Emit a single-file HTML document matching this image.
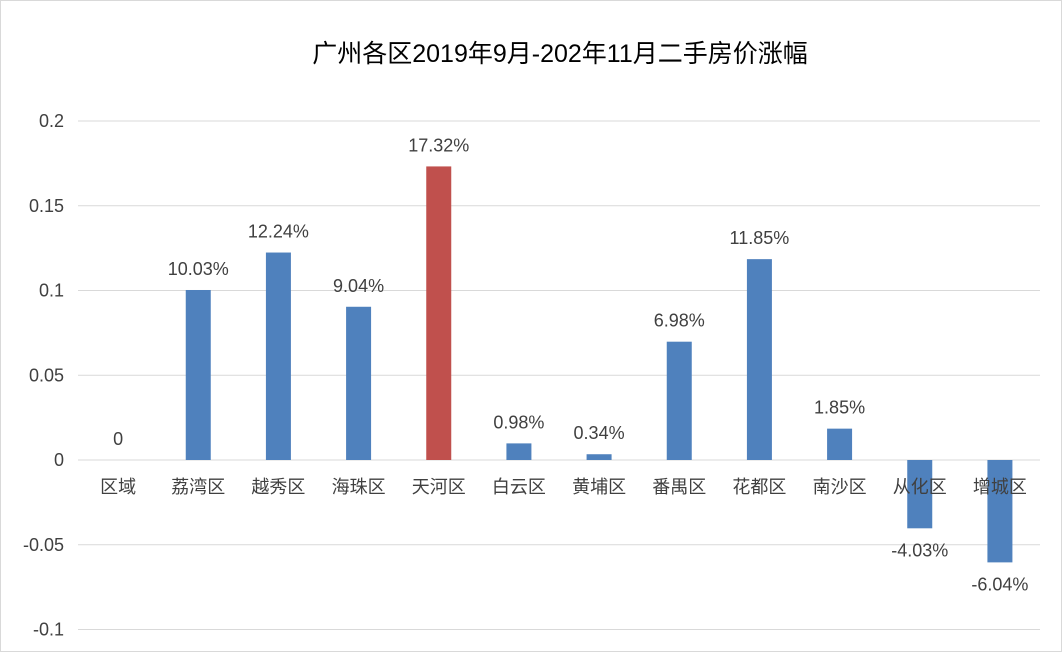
<!DOCTYPE html>
<html><head><meta charset="utf-8"><style>
body{margin:0;background:#fff}
svg{display:block;font-family:"Liberation Sans","Noto Sans CJK SC",sans-serif}
</style></head><body>
<svg id="c" width="1062" height="652">
<rect x="0.5" y="0.5" width="1061" height="651" fill="#fff" stroke="#d9d9d9"/>
<text x="560" y="62" text-anchor="middle" font-size="25" fill="#000">广州各区2019年9月-202年11月二手房价涨幅</text>
<g id="grid"></g><g id="bars"></g><g id="labels"></g>
</svg>
<script>
const categories=["区域","荔湾区","越秀区","海珠区","天河区","白云区","黄埔区","番禺区","花都区","南沙区","从化区","增城区"];
const values=[0,0.1003,0.1224,0.0904,0.1732,0.0098,0.0034,0.0698,0.1185,0.0185,-0.0403,-0.0604];
const valueLabels=["0","10.03%","12.24%","9.04%","17.32%","0.98%","0.34%","6.98%","11.85%","1.85%","-4.03%","-6.04%"];
const ticks=[0.2,0.15,0.1,0.05,0,-0.05,-0.1];
const tickLabels=["0.2","0.15","0.1","0.05","0","-0.05","-0.1"];
const highlight=4;
const NS="http://www.w3.org/2000/svg";
const L=78,R=1040,y0=460,pxPer=339/0.2;
const y=v=>y0-v*pxPer;
const band=(R-L)/categories.length;
const x=i=>L+band*(i+0.5);
function mk(t,a,p){const e=document.createElementNS(NS,t);for(const k in a)e.setAttribute(k,a[k]);p.appendChild(e);return e;}
const g=document.getElementById('grid'),b=document.getElementById('bars'),lb=document.getElementById('labels');
ticks.forEach((t,i)=>{
 const ln=mk('line',{x1:L,x2:R,y1:y(t),y2:y(t),stroke:'#d9d9d9','stroke-width':1},g);
 
 
 const tx=mk('text',{x:64,y:y(t)+6,'text-anchor':'end','font-size':18,fill:'#404040'},g);
 tx.textContent=tickLabels[i];
 
 
});
categories.forEach((c,i)=>{
 const v=values[i],top=Math.min(y(v),y0),h=Math.abs(y(v)-y0);
 const r=mk('rect',{x:x(i)-12.5,y:top,width:25,height:h,fill:i===highlight?'#c0504d':'#4f81bd'},b);
 
 
 const ct=mk('text',{x:x(i),y:493,'text-anchor':'middle','font-size':18,fill:'#404040'},lb);
 ct.textContent=c;
 
 
 const vy=v>=0?y(v)-15:y(v)+28;
 const vt=mk('text',{x:x(i),y:vy,'text-anchor':'middle','font-size':18,fill:'#404040'},lb);
 vt.textContent=valueLabels[i];
 
 
});
</script>
</body></html>
